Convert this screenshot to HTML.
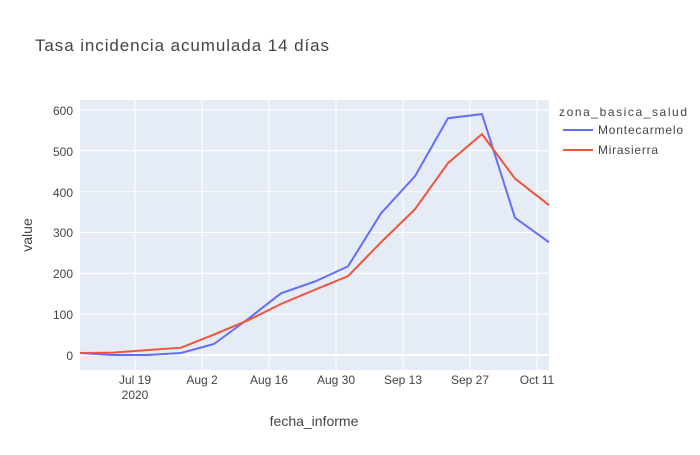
<!DOCTYPE html>
<html><head><meta charset="utf-8"><style>
body{margin:0;background:#fff;}
text{font-family:"Liberation Sans",sans-serif;fill:#444;}
</style></head><body>
<svg width="700" height="450" xmlns="http://www.w3.org/2000/svg">
<rect width="700" height="450" fill="#fff"/>
<text x="35" y="51" font-size="17" textLength="294" lengthAdjust="spacing">Tasa incidencia acumulada 14 días</text>
<rect x="80" y="100" width="469" height="270" fill="#e5ecf6"/>
<g stroke="#fff" stroke-width="1">
<line x1="80" x2="549" y1="355" y2="355" stroke-width="2"/>
<line x1="80" x2="549" y1="314.2" y2="314.2"/>
<line x1="80" x2="549" y1="273.3" y2="273.3"/>
<line x1="80" x2="549" y1="232.5" y2="232.5"/>
<line x1="80" x2="549" y1="191.7" y2="191.7"/>
<line x1="80" x2="549" y1="150.8" y2="150.8"/>
<line x1="80" x2="549" y1="110" y2="110"/>
<line y1="100" y2="370" x1="135" x2="135"/>
<line y1="100" y2="370" x1="202" x2="202"/>
<line y1="100" y2="370" x1="269" x2="269"/>
<line y1="100" y2="370" x1="336" x2="336"/>
<line y1="100" y2="370" x1="403" x2="403"/>
<line y1="100" y2="370" x1="470" x2="470"/>
<line y1="100" y2="370" x1="537" x2="537"/>
</g>
<g font-size="12" text-anchor="end">
<text x="73" y="360">0</text><text x="73" y="319">100</text><text x="73" y="278">200</text>
<text x="73" y="237">300</text><text x="73" y="197">400</text><text x="73" y="156">500</text><text x="73" y="115">600</text>
</g>
<g font-size="12" text-anchor="middle">
<text x="135" y="384">Jul 19</text><text x="135" y="399">2020</text>
<text x="202" y="384">Aug 2</text><text x="269" y="384">Aug 16</text><text x="336" y="384">Aug 30</text>
<text x="403" y="384">Sep 13</text><text x="470" y="384">Sep 27</text><text x="537" y="384">Oct 11</text>
</g>
<text x="314" y="426" font-size="14" text-anchor="middle">fecha_informe</text>
<text x="32" y="235" font-size="14" text-anchor="middle" transform="rotate(-90 32 235)">value</text>
<polyline fill="none" stroke="#636efa" stroke-width="2" points="80,353 113,355 147,355 181,353 214,344 248,319 281,293.3 315,281.5 348,266.4 381,213.3 415,176.2 448,118.2 482,114.1 515,217.8 549,242.3"/>
<polyline fill="none" stroke="#ef553b" stroke-width="2" points="80,353 113,352.6 147,350.1 181,347.7 214,334.6 248,320.3 281,304 315,289.7 348,276.2 381,242.3 415,209.2 448,163.1 482,134.1 515,178.6 549,205.2"/>
<text x="559" y="116" font-size="12" textLength="128" lengthAdjust="spacing">zona_basica_salud</text>
<line x1="563" x2="593" y1="130" y2="130" stroke="#636efa" stroke-width="2"/>
<text x="598" y="134" font-size="12" textLength="85" lengthAdjust="spacing">Montecarmelo</text>
<line x1="563" x2="593" y1="150" y2="150" stroke="#ef553b" stroke-width="2"/>
<text x="598" y="154" font-size="12" textLength="60" lengthAdjust="spacing">Mirasierra</text>
</svg>
</body></html>
